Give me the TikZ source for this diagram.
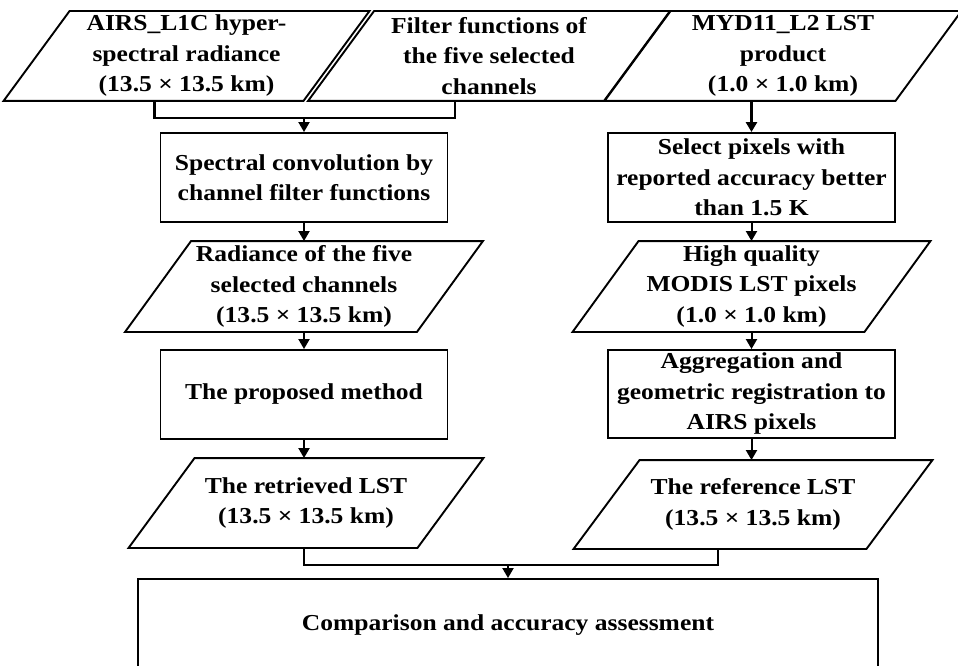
\documentclass[tikz,border=0pt]{standalone}
\usepackage{fontspec}
\setmainfont{Liberation Serif}[FakeStretch=1.12]
\usepackage{tikz}
\usetikzlibrary{arrows.meta,calc}

\begin{document}
\begin{tikzpicture}[
    x=1pt, y=-1pt,
    >={Triangle[width=11pt,length=10pt]},
    procbox/.style={draw, line width=1.9pt, minimum width=287pt, minimum height=89pt, inner sep=1pt, align=center, font=\fontsize{22.8}{30.5}\selectfont\bfseries},
    databox/.style={procbox, draw=none},
    arr/.style={->, line width=2pt},
    joinline/.style={line width=2.6pt}
]
\useasboundingbox (0,0) rectangle (958,666);

\node[databox, minimum width=298pt, minimum height=88pt] (airs) at (186.5,56) {AIRS\_L1C hyper-\\spectral radiance\\(13.5 × 13.5 km)};
\node[databox, minimum width=294pt, minimum height=88pt] (filt) at (489,56) {Filter functions of\\the five selected\\channels};
\node[databox, minimum width=289pt, minimum height=88pt] (myd) at (783,56) {MYD11\_L2 LST\\product\\(1.0 × 1.0 km)};

\node[procbox] (spec) at (304,177.5) {Spectral convolution by\\channel filter functions};
\node[databox, minimum width=290pt] (rad) at (304,286.5) {Radiance of the five\\selected channels\\(13.5 × 13.5 km)};
\node[procbox] (prop) at (304,394.5) {The proposed method};
\node[databox, minimum height=88pt] (retr) at (306,503) {The retrieved LST\\(13.5 × 13.5 km)};

\node[procbox] (sel) at (751.5,177.5) {Select pixels with\\reported accuracy better\\than 1.5 K};
\node[databox, minimum width=290pt] (high) at (751.5,286.5) {High quality\\MODIS LST pixels\\(1.0 × 1.0 km)};
\node[procbox, minimum height=88pt] (aggr) at (751.5,394) {Aggregation and\\geometric registration to\\AIRS pixels};
\node[databox, minimum width=291pt, minimum height=87pt] (refl) at (753,504.5) {The reference LST\\(13.5 × 13.5 km)};

\node[procbox, minimum width=740pt, minimum height=92pt] (comp) at (508,625) {Comparison and accuracy assessment};

\foreach \n in {airs,filt,myd,rad,high,retr,refl}
    \draw[line width=1.9pt] ($(\n.north west)+(33,0)$) -- ($(\n.north east)+(33,0)$) -- ($(\n.south east)+(-33,0)$) -- ($(\n.south west)+(-33,0)$) -- cycle;

\draw[joinline] ($(airs.south)+(-32,0)$) -- ++(0,17) coordinate (j1) -| ($(filt.south)+(-34,0)$);
\draw[arr] (j1 -| spec.north) -- (spec.north);
\draw[arr] (spec) -- (rad);
\draw[arr] (rad) -- (prop);
\draw[arr] (prop) -- (prop |- retr.north);

\draw[arr, line width=3pt] (sel.north |- myd.south) -- (sel.north);
\draw[arr] (sel) -- (high);
\draw[arr] (high) -- (aggr);
\draw[arr] (aggr) -- (aggr |- refl.north);

\draw[joinline] (prop |- retr.south) -- ++(0,17) coordinate (j2) -| ($(refl.south)+(-35,0)$);
\draw[arr] (j2 -| comp.north) -- (comp.north);
\end{tikzpicture}
\end{document}
